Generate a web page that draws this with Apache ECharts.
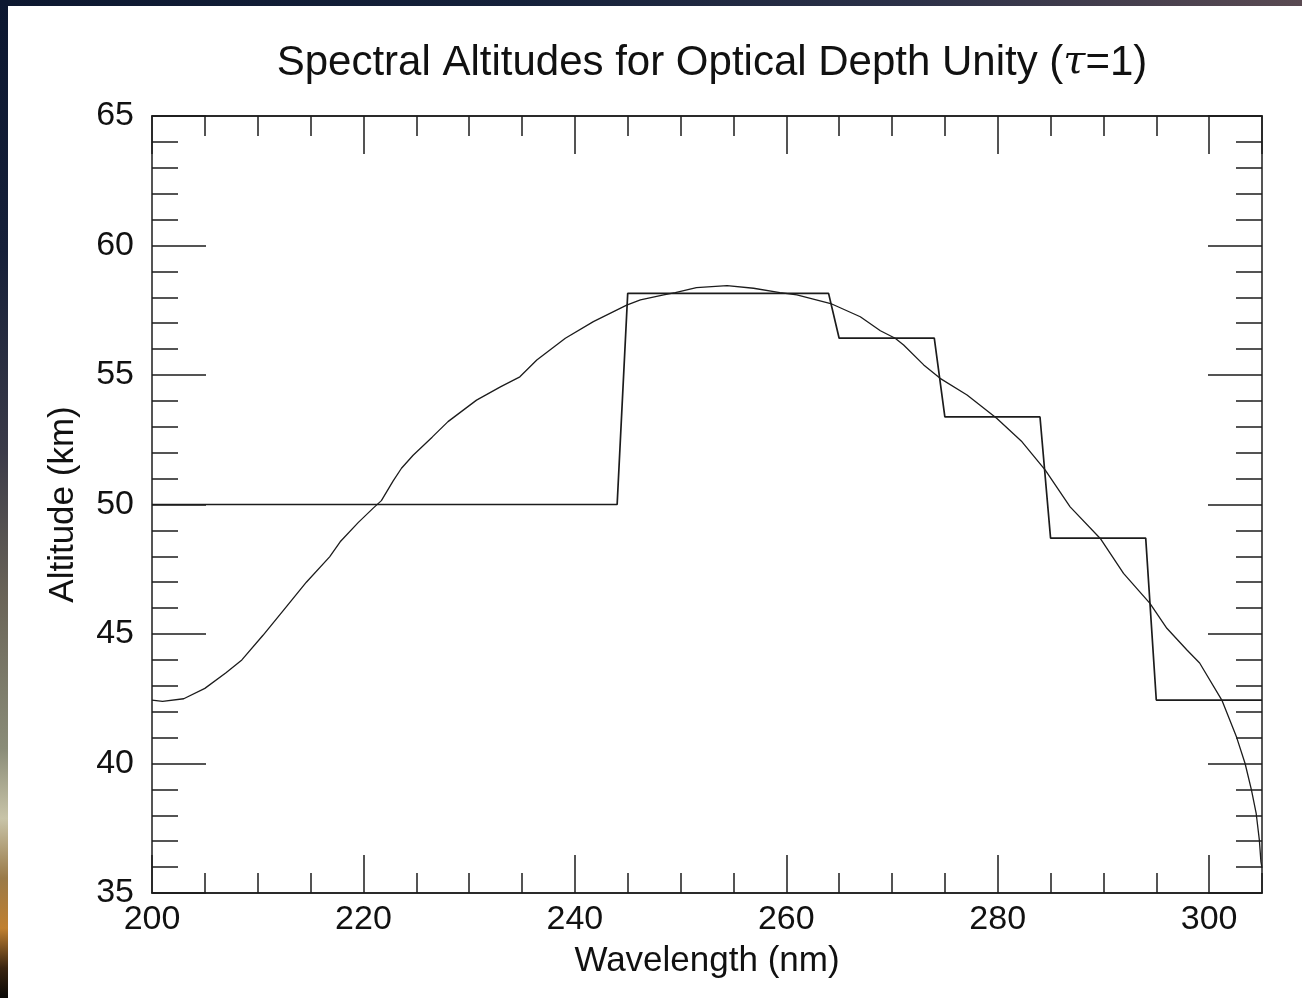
<!DOCTYPE html>
<html>
<head>
<meta charset="utf-8">
<script src="https://cdn.jsdelivr.net/npm/echarts@6/dist/echarts.min.js"></script>
<style>
  html, body { margin: 0; padding: 0; background: #ffffff; }
  #chart { position: absolute; left: 0; top: 0; width: 1302px; height: 998px; }
  #stripTop { position: absolute; left: 0; top: 0; width: 1302px; height: 6px;
    background: linear-gradient(to right, #0d1830 0%, #15213a 40%, #2c3148 70%, #5a4a52 100%); }
  #stripLeft { position: absolute; left: 0; top: 0; width: 8px; height: 998px;
    background: linear-gradient(to bottom, #0c1730 0%, #162039 25%, #3a3a48 45%, #6a6458 60%, #8a8c78 75%, #c8c4a8 82%, #9a7a48 88%, #c08030 93%, #3a2410 97%, #0a0806 100%); }
</style>
</head>
<body>
<div id="chart"></div>
<div id="stripTop"></div>
<div id="stripLeft"></div>
<script>
// Smooth tau=1 altitude curve (wavelength nm, altitude km)
const curveWavelength = [200, 201, 203, 205, 207, 208.5, 210.5, 212.7, 214.6, 216.8, 217.8, 219.5, 220.9, 221.7, 222.8, 223.6, 224.7, 226.5, 228.0, 230.7, 233.0, 234.8, 236.4, 239.1, 241.75, 244.9, 246.2, 248.4, 249.5, 251.5, 254.4, 256.9, 259.4, 261.0, 264.2, 267.0, 268.9, 270.3, 271.1, 273.0, 274.55, 277.1, 279.9, 282.3, 284.5, 286.85, 289.7, 291.9, 294.4, 296.0, 297.9, 299.1, 301.2, 302.6, 303.4, 304.0, 304.45, 304.75, 304.9, 305];
const curveAltitude   = [42.45, 42.4, 42.5, 42.9, 43.5, 44.0, 44.95, 46.05, 47.0, 47.98, 48.56, 49.3, 49.85, 50.15, 50.9, 51.4, 51.9, 52.6, 53.2, 54.03, 54.55, 54.93, 55.58, 56.42, 57.06, 57.7, 57.9, 58.09, 58.18, 58.37, 58.45, 58.35, 58.18, 58.09, 57.76, 57.25, 56.71, 56.42, 56.16, 55.39, 54.87, 54.23, 53.33, 52.42, 51.33, 49.91, 48.69, 47.34, 46.18, 45.22, 44.38, 43.88, 42.45, 41.01, 40.0, 38.98, 38.07, 37.04, 36.2, 35.97];

// Step (band-averaged) altitudes
const stepWavelength = [200, 244, 245, 264, 265, 274, 275, 284, 285, 294, 295, 305];
const stepAltitude   = [50.0, 50.0, 58.15, 58.15, 56.42, 56.42, 53.38, 53.38, 48.70, 48.70, 42.45, 42.45];

const xTickLabels = ['200', '220', '240', '260', '280', '300'];
const yTickLabels = ['35', '40', '45', '50', '55', '60', '65'];

const curveData = curveWavelength.map((x, i) => [x, curveAltitude[i]]);
const stepData = stepWavelength.map((x, i) => [x, stepAltitude[i]]);

const ink = '#1c1c1c';
const fontFamily = 'Liberation Sans, Arial, Helvetica, sans-serif';

function xAxisBase(position, interval, tickLen, withLabels) {
  return {
    type: 'value', position: position, min: 200, max: 305, interval: interval,
    axisLine: { show: true, onZero: false, lineStyle: { color: ink, width: 1.5 } },
    axisTick: { show: true, inside: true, length: tickLen, lineStyle: { color: ink, width: 1.5 } },
    axisLabel: withLabels ? {
      show: true, fontSize: 34, color: '#111', fontFamily: fontFamily, margin: 10,
      showMaxLabel: false,
      formatter: v => { const s = String(v); return xTickLabels.indexOf(s) >= 0 ? s : ''; }
    } : { show: false },
    splitLine: { show: false }
  };
}

function yAxisBase(position, withLabels) {
  return {
    type: 'value', position: position, min: 35, max: 65, interval: 5,
    axisLine: { show: true, onZero: false, lineStyle: { color: ink, width: 1.5 } },
    axisTick: { show: true, inside: true, length: 54, lineStyle: { color: ink, width: 1.5 } },
    minorTick: { show: true, splitNumber: 5, length: 26, lineStyle: { color: ink, width: 1.5 } },
    axisLabel: withLabels ? {
      show: true, fontSize: 34, color: '#111', fontFamily: fontFamily, margin: 18,
      formatter: v => { const s = String(v); return yTickLabels.indexOf(s) >= 0 ? s : ''; }
    } : { show: false },
    splitLine: { show: false }
  };
}

const xMain = xAxisBase('bottom', 20, 38, true);
xMain.name = 'Wavelength (nm)';
xMain.nameLocation = 'middle';
xMain.nameGap = 51;
xMain.nameTextStyle = { fontSize: 35, color: '#111', fontFamily: fontFamily };

const yMain = yAxisBase('left', true);
yMain.name = 'Altitude (km)';
yMain.nameLocation = 'middle';
yMain.nameGap = 71;
yMain.nameTextStyle = { fontSize: 35, color: '#111', fontFamily: fontFamily };

const chart = echarts.init(document.getElementById('chart'), null, { renderer: 'canvas' });
chart.setOption({
  animation: false,
  backgroundColor: '#ffffff',
  title: {
    text: 'Spectral Altitudes for Optical Depth Unity ({t|τ}=1)',
    left: 707, textAlign: 'center', top: 37,
    textStyle: {
      fontSize: 42, fontWeight: 'normal', color: '#111', fontFamily: fontFamily,
      rich: { t: { fontSize: 40, fontStyle: 'italic', fontFamily: 'DejaVu Serif, serif', color: '#111' } }
    }
  },
  grid: { left: 152, top: 116, width: 1110, height: 777, containLabel: false },
  xAxis: [
    xMain,
    xAxisBase('bottom', 5, 20, false),
    xAxisBase('top', 20, 38, false),
    xAxisBase('top', 5, 20, false)
  ],
  yAxis: [
    yMain,
    yAxisBase('right', false)
  ],
  series: [
    {
      name: 'tau=1 altitude', type: 'line', xAxisIndex: 0, yAxisIndex: 0,
      data: curveData, showSymbol: false, smooth: false,
      lineStyle: { color: ink, width: 1.3 }
    },
    {
      name: 'band altitude', type: 'line', xAxisIndex: 0, yAxisIndex: 0,
      data: stepData, showSymbol: false,
      lineStyle: { color: ink, width: 1.7 }
    }
  ]
});
</script>
</body>
</html>
